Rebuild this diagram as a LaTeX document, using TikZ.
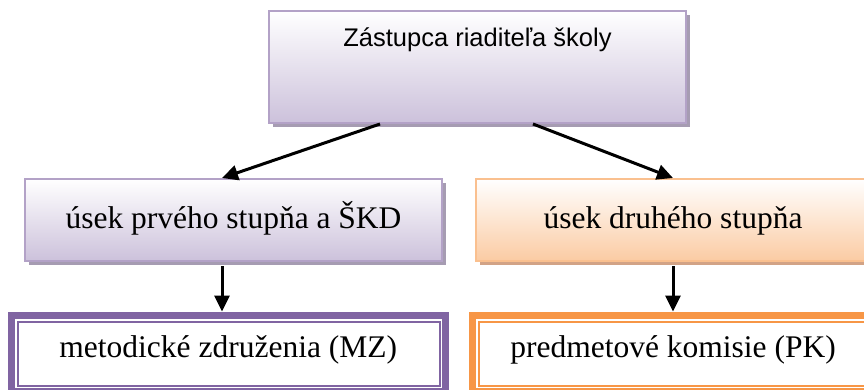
\documentclass[tikz,border=0pt]{standalone}
\usepackage{fontspec}
\setmainfont{Liberation Serif}
\newfontfamily\arialf{Liberation Sans}
\usetikzlibrary{shadows,arrows.meta}
\definecolor{lavb}{HTML}{B3A2C7}
\definecolor{lavf}{HTML}{CCC1DB}
\definecolor{lavs}{HTML}{A69CB2}
\definecolor{orb}{HTML}{FAC08F}
\definecolor{orf}{HTML}{FBCBA3}
\definecolor{ors}{HTML}{D2A386}
\definecolor{purp}{HTML}{8064A2}
\definecolor{oran}{HTML}{F79646}
\tikzset{
  lavbox/.style={rectangle, draw=lavb, line width=2pt, top color=white, bottom color=lavf, inner sep=0pt,
    drop shadow={shadow xshift=4pt, shadow yshift=-4pt, fill=lavs, opacity=1}},
  orbox/.style={rectangle, draw=orb, line width=2pt, top color=white, bottom color=orf, inner sep=0pt,
    drop shadow={shadow xshift=4pt, shadow yshift=-4pt, fill=ors, opacity=1}},
  framebox/.style={rectangle, line width=7pt, fill=white, inner sep=0pt,
    text height=42pt, text depth=34pt, font=\fontsize{31.5}{36}\selectfont},
  innerline/.style={line width=2pt},
  conn/.style={line width=3pt, -{Triangle[length=16pt,width=15pt]}}
}
\begin{document}
\begin{tikzpicture}[x=1pt,y=-1pt]
\useasboundingbox (0,0) rectangle (864,390);
\clip (0,0) rectangle (864,390);
% top
\node[lavbox, minimum width=417pt, text height=36pt, text depth=76pt,
  font=\arialf\fontsize{25.5}{30}\selectfont] (top) at (477.5,67) {Zástupca riaditeľa školy};
% middle
\node[lavbox, minimum width=417pt, text height=49pt, text depth=33pt,
  font=\fontsize{31.5}{36}\selectfont] (ml) at (233.5,220) {úsek prvého stupňa a ŠKD};
\node[orbox, minimum width=394pt, text height=49pt, text depth=33pt,
  font=\fontsize{31.5}{36}\selectfont] (mr) at (673,220) {úsek druhého stupňa};
% bottom
\node[framebox, draw=purp, minimum width=433.5pt] (mz) at (228.25,353) {metodické združenia (MZ)};
\draw[innerline, draw=purp] ([shift={(10,10)}]mz.north west) rectangle ([shift={(-9,-9)}]mz.south east);
\node[framebox, draw=oran, minimum width=402pt] (pk) at (673,353) {predmetové komisie (PK)};
\draw[innerline, draw=oran] ([shift={(10,10)}]pk.north west) rectangle ([shift={(-9,-9)}]pk.south east);
% connectors
\draw[conn] ([xshift=-97.5pt]top.south) -- ([xshift=-11.5pt]ml.north);
\draw[conn] ([xshift=55.5pt]top.south) -- (mr.north);
\draw[conn] ([xshift=-11.5pt,yshift=-4pt]ml.south) -- ([xshift=-6.25pt]mz.north);
\draw[conn] ([yshift=-4pt]mr.south) -- (pk.north);
\end{tikzpicture}
\end{document}
